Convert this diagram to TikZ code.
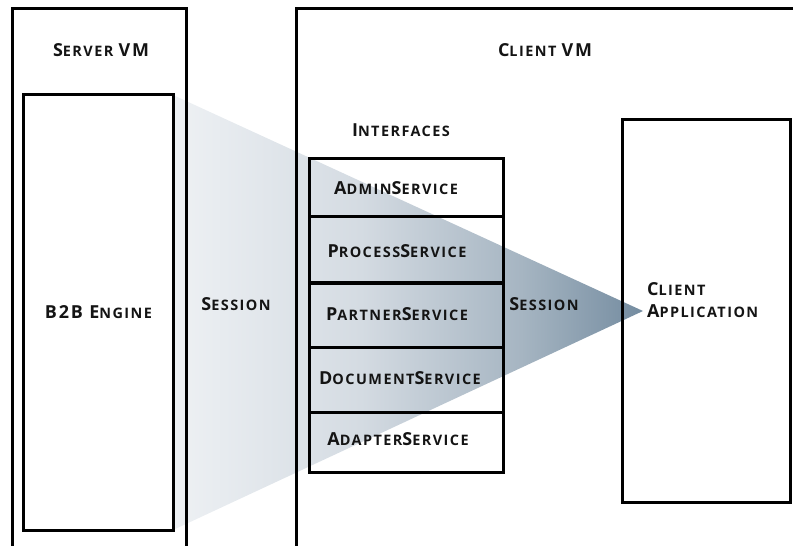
\documentclass[tikz,border=0pt]{standalone}
\usepackage{fontspec}
\setmainfont{Open Sans}[LetterSpace=10]
% larger initial letter for the hand-made small caps
\newcommand\bigchar[1]{{\fontsize{18}{20}\selectfont #1}}
\definecolor{wedgeA}{RGB}{238,241,244}
\definecolor{wedgeB}{RGB}{212,219,226}
\definecolor{wedgeC}{RGB}{166,181,194}
\definecolor{wedgeD}{RGB}{116,140,160}
\definecolor{ink}{RGB}{20,20,20}
\pgfdeclarehorizontalshading{wedgeshade}{100bp}{%
  color(0bp)=(wedgeA); color(25bp)=(wedgeA); color(45bp)=(wedgeB);
  color(62bp)=(wedgeC); color(75bp)=(wedgeD); color(100bp)=(wedgeD)}
\begin{document}
\begin{tikzpicture}[x=1bp,y=-1bp,
  wall/.style={line width=3bp},
  box/.style={draw, line width=3bp, inner sep=0pt},
  cell/.style={box, minimum width=194bp},
  lbl/.style={font=\fontsize{14.5}{22}\selectfont\bfseries, text=ink, inner sep=0pt}
]
\useasboundingbox (0,0) rectangle (793,546);

% shaded session wedge, behind everything else
\coordinate (tip) at (643,311);
\shade[shading=wedgeshade]
  (173,95) -- (tip) -- (173,530) -- cycle;

% virtual machine containers (open at the page edges)
\draw[wall] (12,548) -- (12,9) -- (186,9) -- (186,548);
\draw[wall] (296,548) -- (296,9) -- (796,9);

% server side
\node[box, fill=white, minimum width=149bp, minimum height=435bp, lbl] (b2b) at (98.5,312.5)
  {\bigchar{B2B E}NGINE};
\node[lbl] (servervm) at (101,50) {\bigchar{S}ERVER \bigchar{VM}};
\node[lbl] (session1) at (236,304) {\bigchar{S}ESSION};

% client side
\node[lbl] (clientvm) at (545,50) {\bigchar{C}LIENT \bigchar{VM}};
\node[lbl] (ifaces) at (401,130) {\bigchar{I}NTERFACES};

\node[cell, minimum height=58bp] (admin)    at (406,188)   {};
\node[cell, minimum height=66bp] (process)  at (406,250)   {};
\node[cell, minimum height=64bp] (partner)  at (406,315)   {};
\node[cell, minimum height=65bp] (document) at (406,379.5) {};
\node[cell, minimum height=60bp] (adapter)  at (406,442)   {};

\node[lbl] (adminl)    at (396,188) {\bigchar{A}DMIN\bigchar{S}ERVICE};
\node[lbl] (processl)  at (397,251) {\bigchar{P}ROCESS\bigchar{S}ERVICE};
\node[lbl] (partnerl)  at (397,314) {\bigchar{P}ARTNER\bigchar{S}ERVICE};
\node[lbl] (documentl) at (400,378) {\bigchar{D}OCUMENT\bigchar{S}ERVICE};
\node[lbl] (adapterl)  at (398,439) {\bigchar{A}DAPTER\bigchar{S}ERVICE};

\node[lbl] (session2) at (544,304) {\bigchar{S}ESSION};

\node[box, minimum width=168bp, minimum height=382bp] (capp) at (706,311) {};
\node[lbl, anchor=west, align=left] (cappl) at (647,300)
  {\bigchar{C}LIENT\\\bigchar{A}PPLICATION};
\end{tikzpicture}
\end{document}
